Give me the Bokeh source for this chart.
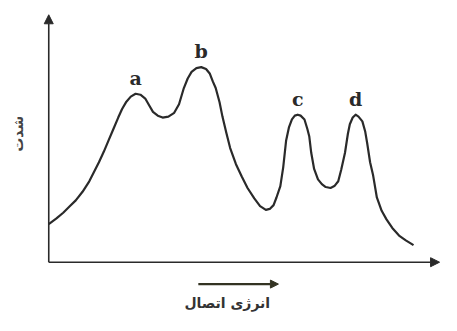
from bokeh.plotting import figure
from bokeh.models import Range1d, Arrow, NormalHead, Label, ColumnDataSource
from bokeh.core.properties import value
from bokeh.embed import file_html
from bokeh.resources import INLINE

# binding energy (arbitrary units) and intensity (arbitrary units)
energy = [0, 8, 15, 22, 28, 35, 42, 47, 52, 57, 62, 67, 72, 76, 80, 85, 90, 95, 100,
          104, 108, 113, 118, 124, 130, 135, 140, 144, 148, 153, 158, 163, 167, 170,
          173, 177, 180, 184, 188, 194, 200, 206, 213, 219, 225, 229, 233, 236, 240,
          243, 246, 249, 252, 255, 258, 261, 265, 268, 270, 272, 275, 279, 283, 287,
          292, 296, 300, 303, 307, 310, 312, 315, 318, 321, 325, 328, 330, 333, 336,
          340, 345, 350, 356, 363, 370, 378]
intensity = [40, 46, 52, 59, 65, 74, 85, 95, 105, 116, 128, 140, 152, 161, 168, 174,
             177, 176, 172, 165, 158, 154, 152, 153, 157, 166, 183, 193, 200, 204, 205,
             203, 198, 190, 183, 168, 153, 136, 120, 103, 90, 78, 67, 59, 55, 56, 60,
             68, 80, 100, 128, 142, 150, 154, 155, 154, 150, 140, 132, 115, 98, 87, 82,
             79, 78, 80, 85, 97, 115, 135, 145, 152, 155, 153, 148, 137, 125, 105, 92,
             68, 54, 45, 36, 28, 23, 18]
peak_names = ["a", "b", "c", "d"]

x_axis_title = "انرژی اتصال"
y_axis_title = "شدت"

ink = "#2a2a2a"

p = figure(width=441, height=315, output_backend="svg", toolbar_location=None,
           x_range=Range1d(-50, 407), y_range=Range1d(-56, 275),
           min_border=0, min_border_left=0, min_border_right=0,
           min_border_top=0, min_border_bottom=0)
p.axis.visible = False
p.grid.visible = False
p.outline_line_color = None
p.background_fill_color = "white"
p.border_fill_color = "white"

# axes with arrow heads
x_end = max(energy) + 27
y_end = max(intensity) + 55
p.add_layout(Arrow(x_start=0, y_start=0, x_end=x_end, y_end=0, line_color=ink, line_width=1.6,
                   end=NormalHead(size=9, fill_color=ink, line_color=ink)))
p.add_layout(Arrow(x_start=0, y_start=0, x_end=0, y_end=y_end, line_color=ink, line_width=1.6,
                   end=NormalHead(size=9, fill_color=ink, line_color=ink)))

# curve
src = ColumnDataSource(dict(x=energy, y=intensity))
p.line("x", "y", source=src, line_color=ink, line_width=2.2, line_join="round")

# peak labels at local maxima
peaks = [i for i in range(1, len(intensity) - 1)
         if intensity[i] >= intensity[i - 1] and intensity[i] > intensity[i + 1]]
lab = ColumnDataSource(dict(x=[energy[i] for i in peaks],
                            y=[intensity[i] + 5 for i in peaks],
                            t=peak_names[:len(peaks)]))
p.text("x", "y", text="t", source=lab, text_align="center", text_baseline="bottom",
       text_font=value("DejaVu Serif"), text_font_style="bold",
       text_font_size="19px", text_color=ink)

# energy direction arrow under the x axis
p.add_layout(Arrow(x_start=155, y_start=-23, x_end=238, y_end=-23, line_color="#333322",
                   line_width=2.2, end=NormalHead(size=8, fill_color="#333322", line_color="#333322")))

p.add_layout(Label(x=185, y=-43, text=x_axis_title, text_align="center", text_baseline="middle",
                   text_font="DejaVu Sans", text_font_style="bold", text_font_size="14px",
                   text_color="#333333"))
p.add_layout(Label(x=-32, y=135, text=y_axis_title, text_align="center", text_baseline="middle",
                   angle=90, angle_units="deg",
                   text_font="DejaVu Sans", text_font_style="bold", text_font_size="14px",
                   text_color="#444444"))

open("out.html", "w").write(file_html(p, INLINE))
